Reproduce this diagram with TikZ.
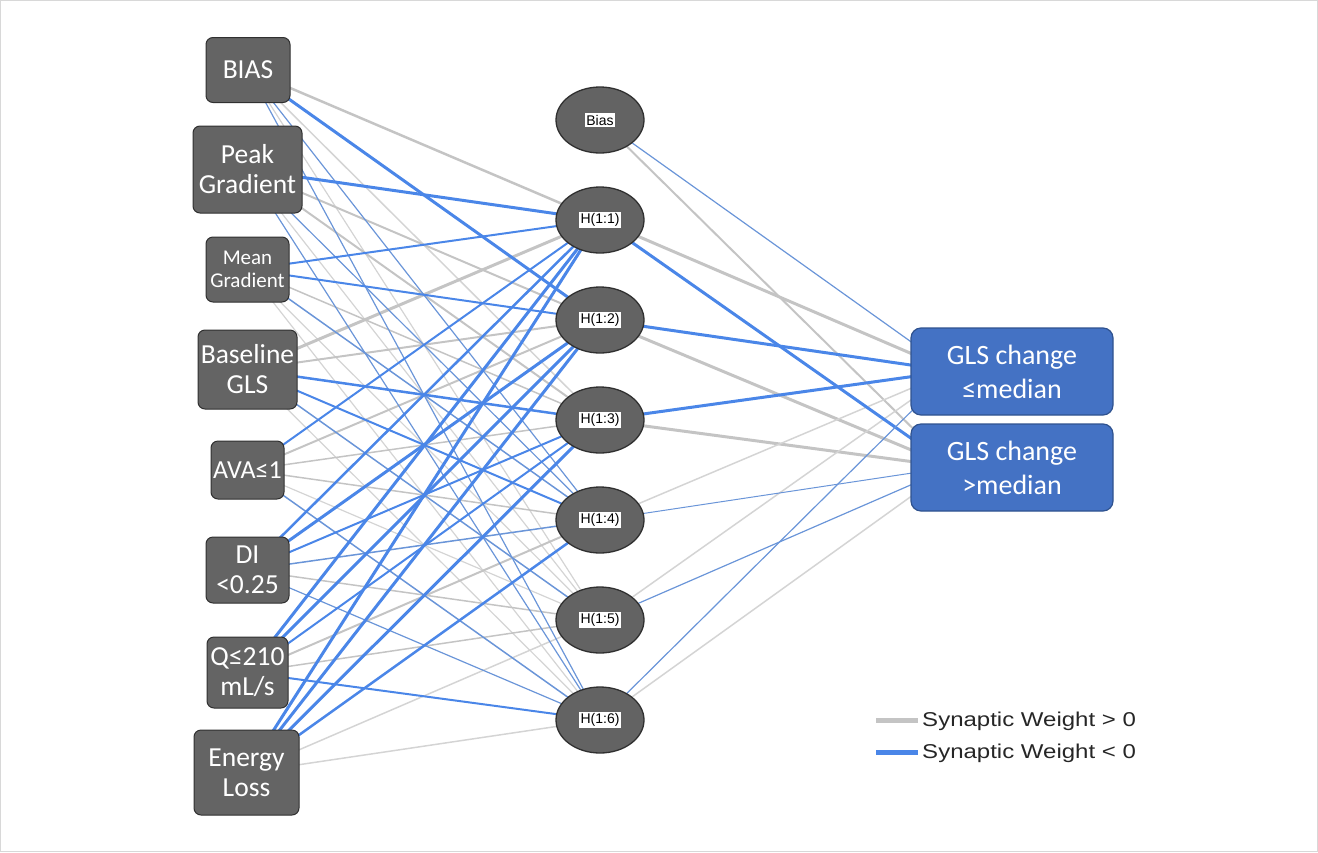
\documentclass[tikz,border=0pt]{standalone}
\usepackage{fontspec}
\usetikzlibrary{shapes.geometric}
\newfontfamily\carl{Carlito}
\newfontfamily\arialf{Liberation Sans}
\definecolor{boxfill}{HTML}{646464}
\definecolor{boxline}{HTML}{303030}
\definecolor{hidfill}{HTML}{636363}
\definecolor{outfill}{HTML}{4472C4}
\definecolor{outline}{HTML}{2F528F}
\definecolor{gA}{HTML}{C4C4C4}
\definecolor{gB}{HTML}{D4D4D4}
\definecolor{bA}{HTML}{4A86E8}
\definecolor{bB}{HTML}{6A95D8}
\definecolor{frame}{HTML}{D8D8D8}
\pgfdeclarelayer{background}
\pgfsetlayers{background,main}
\newcommand\hlab[1]{{\setlength{\fboxsep}{1.5pt}\colorbox{white}{\fontsize{14}{15}\arialf\color{black}#1}}}
\tikzset{
  inbox/.style={draw=boxline, line width=1pt, fill=boxfill, rounded corners=7pt, text=white, align=center, inner sep=0pt, font=\fontsize{27.5}{30}\carl},
  hid/.style={ellipse, draw=boxline, line width=1.3pt, fill=hidfill, minimum width=88pt, minimum height=66pt, inner sep=0pt},
  outbox/.style={draw=outline, line width=1.2pt, fill=outfill, rounded corners=10pt, text=white, align=center, minimum width=202pt, minimum height=87pt, inner sep=0pt, font=\fontsize{28}{34}\carl},
  legtext/.style={anchor=west, inner sep=0pt, xscale=1.2, font=\fontsize{20}{22}\arialf, text=black!85}
}
\begin{document}
\begin{tikzpicture}[x=1pt,y=-1pt]
\useasboundingbox (0,0) rectangle (1318,852);
\draw[frame, line width=1pt] (0.5,0.5) rectangle (1317.5,851.5);
% input nodes
\node[inbox, minimum width=84pt, minimum height=65pt] (i1) at (248,70) {BIAS};
\node[inbox, minimum width=109pt, minimum height=87pt] (i2) at (247.5,169.5) {Peak\\Gradient};
\node[inbox, minimum width=83pt, minimum height=65pt, font=\fontsize{21}{23}\carl] (i3) at (247.5,269.5) {Mean\\Gradient};
\node[inbox, minimum width=99pt, minimum height=79pt] (i4) at (247.5,369.5) {Baseline\\GLS};
\node[inbox, minimum width=73pt, minimum height=58pt, font=\fontsize{26}{30}\carl] (i5) at (247.5,470) {AVA≤1};
\node[inbox, minimum width=83pt, minimum height=66pt] (i6) at (247.5,570) {DI\\<0.25};
\node[inbox, minimum width=81pt, minimum height=71pt] (i7) at (247.5,672.5) {Q≤210\\mL/s};
\node[inbox, minimum width=105pt, minimum height=85pt] (i8) at (246.5,772.5) {Energy\\Loss};
% hidden nodes
\node[hid] (h0) at (600,120) {\hlab{Bias}};
\node[hid] (h1) at (600,220) {\hlab{H(1:1)}};
\node[hid] (h2) at (600,320) {\hlab{H(1:2)}};
\node[hid] (h3) at (600,420) {\hlab{H(1:3)}};
\node[hid] (h4) at (600,520) {\hlab{H(1:4)}};
\node[hid] (h5) at (600,620) {\hlab{H(1:5)}};
\node[hid] (h6) at (600,720) {\hlab{H(1:6)}};
% output nodes
\node[outbox] (o1) at (1012,371.5) {GLS change\\≤median};
\node[outbox] (o2) at (1012,467.5) {GLS change\\>median};
\coordinate (t1) at (952,371);
\coordinate (t2) at (952,467);
% legend
\coordinate (la1) at (876,720);
\coordinate (lb1) at (918,720);
\coordinate (la2) at (876,752);
\coordinate (lb2) at (918,752);
\draw[gA, line width=5pt] (la1) -- (lb1);
\draw[bA, line width=5pt] (la2) -- (lb2);
\node[legtext] (lt1) at (922,721) {Synaptic Weight > 0};
\node[legtext] (lt2) at (922,753) {Synaptic Weight < 0};
\begin{pgfonlayer}{background}
\foreach \i/\j/\c/\w in {1/1/gA/2.5, 1/3/gB/1.5, 1/5/gB/1.2, 2/2/gA/2, 2/3/gA/2, 2/5/gB/1.2,
  3/3/gA/1.5, 3/5/gB/1.2, 3/6/gB/1.2, 4/1/gA/3, 4/2/gA/2, 4/6/gB/1.2, 5/2/gA/2, 5/3/gA/1.5,
  5/4/gA/1.5, 5/5/gB/1.2, 6/5/gA/1.5, 7/4/gA/2, 7/5/gA/1.5, 8/5/gB/1.5, 8/6/gB/1.5}
  {\draw[color=\c, line width=\w pt] (i\i.center) -- (h\j.center);}
\foreach \i/\j/\c/\w in {1/2/bA/3, 1/4/bB/1.2, 1/6/bB/1.2, 2/1/bA/3, 2/4/bB/1.2, 2/6/bB/1.2,
  3/1/bA/2, 3/2/bA/2, 3/4/bB/1.5, 4/3/bA/2.5, 4/4/bA/2, 4/5/bB/1.5, 5/1/bA/2, 5/6/bB/1.5,
  6/1/bA/2.5, 6/2/bA/3, 6/3/bA/2, 6/4/bB/1.5, 6/6/bB/1.2, 7/1/bA/3, 7/2/bA/3, 7/3/bA/2,
  7/6/bA/2, 8/1/bA/3, 8/2/bA/3, 8/3/bA/3, 8/4/bA/2.5}
  {\draw[color=\c, line width=\w pt] (i\i.center) -- (h\j.center);}
% hidden to output
\foreach \j/\t/\c/\w in {0/2/gA/2, 1/1/gA/3, 2/2/gA/3, 3/2/gA/3, 4/1/gB/1.5, 5/1/gB/1.5, 6/2/gB/1.5}
  {\draw[color=\c, line width=\w pt] (h\j.center) -- (t\t);}
\foreach \j/\t/\c/\w in {0/1/bB/1.2, 1/2/bA/3, 2/1/bA/3, 3/1/bA/3, 4/2/bB/1, 5/2/bB/1.2, 6/1/bB/1.2}
  {\draw[color=\c, line width=\w pt] (h\j.center) -- (t\t);}
\end{pgfonlayer}
\end{tikzpicture}
\end{document}
